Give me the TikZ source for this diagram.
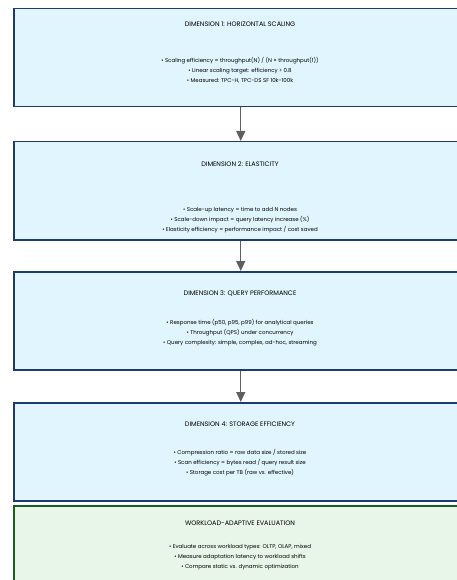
\documentclass[tikz,border=0pt]{standalone}
\usepackage{fontspec}
\setmainfont{Poppins}
\usetikzlibrary{arrows.meta,positioning}
\definecolor{dimfill}{HTML}{E1F5FE}
\definecolor{dimline}{HTML}{1F3A6E}
\definecolor{evalfill}{HTML}{E8F5E9}
\definecolor{evalline}{HTML}{1B5E20}
\definecolor{flowgray}{HTML}{5F5F5F}

\begin{document}
\begin{tikzpicture}[x=1pt, y=1pt,
  dimbox/.style={draw=dimline, fill=dimfill, line width=1.5pt, minimum width=454pt,
    minimum height=98pt, anchor=north west, inner sep=0pt},
  evalbox/.style={dimbox, draw=evalline, fill=evalfill},
  boxtitle/.style={font=\fontsize{6.5}{7}\selectfont, inner sep=0pt},
  boxitems/.style={align=center, font=\fontsize{5.5}{10}\selectfont, inner sep=0pt},
  flow/.style={draw=flowgray, line width=1.2pt, -{Triangle[length=10pt,width=9pt]}}]
  \useasboundingbox (0,0) rectangle (457,-580);

  % Dimension boxes
  \node[dimbox] (dim1) at (13,-8) {};
  \node[dimbox] (dim2) at (13,-141) {};
  \node[dimbox] (dim3) at (13,-271) {};
  \node[dimbox] (dim4) at (13,-402) {};
  \node[evalbox] (eval) at (13,-505) {};

  % Titles
  \node[boxtitle] (dim1title) at (240,-24) {DIMENSION 1: HORIZONTAL SCALING};
  \node[boxtitle] (dim2title) at (240,-164) {DIMENSION 2: ELASTICITY};
  \node[boxtitle] (dim3title) at (240,-294) {DIMENSION 3: QUERY PERFORMANCE};
  \node[boxtitle] (dim4title) at (240,-424) {DIMENSION 4: STORAGE EFFICIENCY};
  \node[boxtitle] (evaltitle) at (240,-523) {WORKLOAD-ADAPTIVE EVALUATION};

  % Metrics
  \node[boxitems] (dim1items) at (240,-70) {• Scaling efficiency = throughput(N) / (N × throughput(1))\\
    • Linear scaling target: efficiency > 0.8\\• Measured: TPC-H, TPC-DS SF 10k-100k};
  \node[boxitems] (dim2items) at (240,-220) {• Scale-up latency = time to add N nodes\\
    • Scale-down impact = query latency increase (\%)\\• Elasticity efficiency = performance impact / cost saved};
  \node[boxitems] (dim3items) at (240,-333) {• Response time (p50, p95, p99) for analytical queries\\
    • Throughput (QPS) under concurrency\\• Query complexity: simple, complex, ad-hoc, streaming};
  \node[boxitems] (dim4items) at (240,-463) {• Compression ratio = raw data size / stored size\\
    • Scan efficiency = bytes read / query result size\\• Storage cost per TB (raw vs. effective)};
  \node[boxitems] (evalitems) at (240,-557) {• Evaluate across workload types: OLTP, OLAP, mixed\\
    • Measure adaptation latency to workload shifts\\• Compare static vs. dynamic optimization};

  % Flow between dimensions
  \draw[flow] (dim1.south) -- (dim2.north);
  \draw[flow] (dim2.south) -- (dim3.north);
  \draw[flow] (dim3.south) -- (dim4.north);
\end{tikzpicture}
\end{document}
